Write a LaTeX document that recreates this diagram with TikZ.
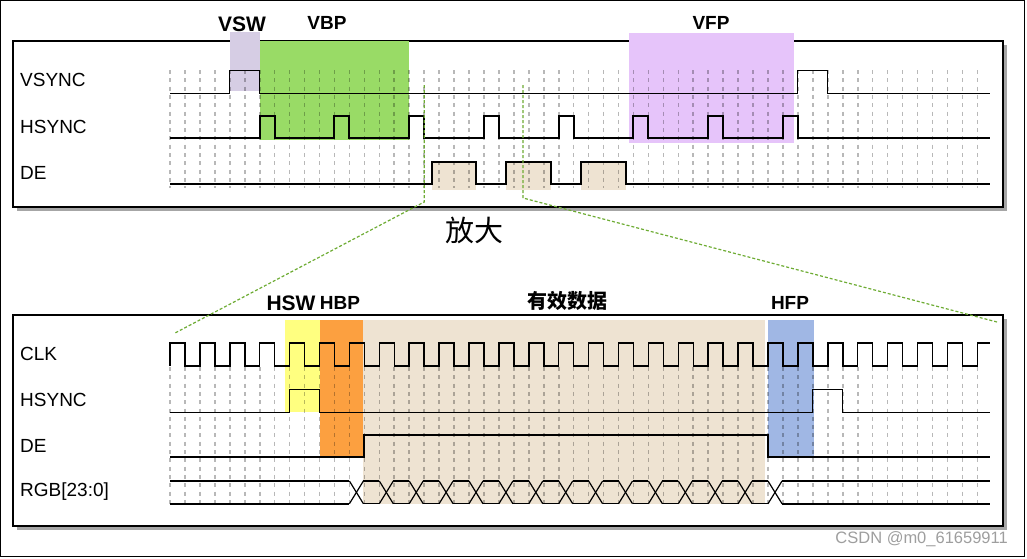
\documentclass[tikz,border=0pt]{standalone}
\usepackage{fontspec}
\setmainfont{Liberation Sans}
\newfontfamily\cjk{Noto Sans CJK SC}
\usepackage{xcolor}
\definecolor{vswcol}{RGB}{214,205,228}
\definecolor{vbpcol}{RGB}{153,219,102}
\definecolor{vfpcol}{RGB}{230,196,250}
\definecolor{datacol}{RGB}{238,227,210}
\definecolor{hswcol}{RGB}{255,255,128}
\definecolor{hbpcol}{RGB}{252,160,64}
\definecolor{hfpcol}{RGB}{160,183,228}
\definecolor{zoomgreen}{RGB}{110,172,52}
\usepackage{tikz}
\usetikzlibrary{positioning}

\def\xo{170}
\def\hp{14.95}

\begin{document}
\begin{tikzpicture}[
    x=1pt, y=-1pt,
    rowlabel/.style={anchor=west, inner sep=0pt, font=\fontsize{19}{22}\selectfont},
    title/.style={inner sep=0pt, font=\fontsize{19}{22}\selectfont\bfseries},
    bigtitle/.style={title, font=\fontsize{21}{24}\selectfont\bfseries},
    panel/.style={draw=black, fill=white, line width=1.3pt},
    shadow/.style={fill=black!35},
    gridline/.style={draw=black, opacity=0.28, line width=1.6pt, dash pattern=on 4pt off 4.3pt},
    thinwave/.style={draw=black, line width=1pt},
    wave/.style={draw=black, line width=2pt},
    clkwave/.style={draw=black, line width=1.5pt},
    bus/.style={draw=black, line width=1.8pt},
    buscross/.style={draw=black, line width=1.2pt},
    zoomline/.style={draw=zoomgreen, line width=1.2pt, dash pattern=on 3pt off 2pt}
]
\useasboundingbox (0,0) rectangle (1027,558);
\draw[line width=1pt] (0.5,0.5) rectangle (1024,556);

\fill[shadow] (17,45) rectangle (1007,211);
\fill[shadow] (17,319) rectangle (1007,530);
\filldraw[panel] (13,41) rectangle (1003,207);
\filldraw[panel] (13,315) rectangle (1003,526);

\fill[vswcol] ({\xo+4*\hp},31.7) rectangle ({\xo+6*\hp},90.7);
\fill[vbpcol] ({\xo+6*\hp},41.3) rectangle ({\xo+16*\hp},140);
\fill[vfpcol] (629.3,33.3) rectangle (794.3,142.7);
\foreach \k in {0,1,2}
  \fill[datacol] ({\xo+(17.5+5*\k)*\hp},161.7) rectangle ({\xo+(20.5+5*\k)*\hp},190);

\fill[hswcol] (285,320) rectangle ({\xo+10*\hp},412);
\fill[hbpcol] ({\xo+10*\hp},320) rectangle (363,456.7);
\fill[datacol] (363,320) rectangle (765,503.5);
\fill[hfpcol] (767.7,320) rectangle (814,455.7);

\foreach \i in {0,...,54} {
  \draw[gridline] ({\xo+\i*\hp},70) -- ({\xo+\i*\hp},188);
  \draw[gridline] ({\xo+\i*\hp},367) -- ({\xo+\i*\hp},504);
}

\node[rowlabel] (lblvsync) at (20,80) {VSYNC};
\node[rowlabel] (lblhsynct) at (20,127) {HSYNC};
\node[rowlabel] (lbldet) at (20,173) {DE};
\node[rowlabel] (lblclk) at (20,354) {CLK};
\node[rowlabel] (lblhsyncb) at (20,400) {HSYNC};
\node[rowlabel] (lbldeb) at (20,446) {DE};
\node[rowlabel] (lblrgb) at (20,492) {RGB[23:0]};

\draw[thinwave] (\xo,93) -| ({\xo+4*\hp},70.7) -| ({\xo+6*\hp},93)
  -| ({\xo+42*\hp},70.7) -| ({\xo+44*\hp},93) -- (990,93);
\draw[wave] (\xo,138.3) \foreach \k in {0,...,7} {
  -- ({\xo+(6+5*\k)*\hp},138.3) |- ({\xo+(7+5*\k)*\hp},115.7) -- ({\xo+(7+5*\k)*\hp},138.3)} -- (990,138.3);
\draw[wave] (\xo,184.3) \foreach \k in {0,1,2} {
  -- ({\xo+(17.5+5*\k)*\hp},184.3) |- ({\xo+(20.5+5*\k)*\hp},161.7) -- ({\xo+(20.5+5*\k)*\hp},184.3)} -- (990,184.3);

\draw[clkwave] (\xo,366) \foreach \k in {0,...,26} {
  -- ({\xo+2*\k*\hp},343) -- ({\xo+(2*\k+1)*\hp},343) -- ({\xo+(2*\k+1)*\hp},366) -- ({\xo+(2*\k+2)*\hp},366)}
  -- ({\xo+54*\hp},343) -- (990,343);
\draw[thinwave] (\xo,412) -| ({\xo+8*\hp},389) -| ({\xo+10*\hp},412)
  -| ({\xo+43*\hp},389) -| ({\xo+45*\hp},412) -- (990,412);
\draw[wave] (\xo,457) -| ({\xo+13*\hp},435) -| ({\xo+40*\hp},457) -- (990,457);

\draw[bus] (\xo,481) -- ({\xo+12*\hp},481);
\draw[bus] (\xo,503.7) -- ({\xo+12*\hp},503.7);
\foreach \k in {12,14,...,40} {
  \draw[buscross] ({\xo+\k*\hp},481) -- ({\xo+\k*\hp+14},503.7);
  \draw[buscross] ({\xo+\k*\hp},503.7) -- ({\xo+\k*\hp+14},481);
}
\foreach \k in {12,14,...,38} {
  \draw[buscross] ({\xo+\k*\hp+14},481) -- ({\xo+(\k+2)*\hp},481);
  \draw[buscross] ({\xo+\k*\hp+14},503.7) -- ({\xo+(\k+2)*\hp},503.7);
}
\draw[bus] ({\xo+40*\hp+14},481) -- (990,481);
\draw[bus] ({\xo+40*\hp+14},503.7) -- (990,503.7);

\node[bigtitle] (vsw) at (242,24) {VSW};
\node[title] (vbp) at (327,23) {VBP};
\node[title] (vfp) at (711,23) {VFP};
\node[bigtitle] (hsw) at (291,303) {HSW};
\node[title, right=4pt of hsw] (hbp) {HBP};
\node[inner sep=0pt, font=\fontsize{20}{22}\cjk\bfseries] (data) at (567,301) {有效数据};
\node[title] (hfp) at (790,303) {HFP};
\node[inner sep=0pt, font=\fontsize{29}{32}\cjk] (zoomtxt) at (474,230) {放大};
\node[anchor=east, inner sep=0pt, text=black!38, font=\fontsize{16.5}{19}\selectfont] (mark) at (1008,539) {CSDN @m0\_61659911};

\coordinate (zlatop) at ({\xo+17*\hp},85);
\coordinate (zlabend) at ({\xo+17*\hp},202);
\coordinate (zlaend) at (175,333);
\coordinate (zlbtop) at (523,85);
\coordinate (zlbbend) at (523,198);
\coordinate (zlbend) at (997,322);
\draw[zoomline] (zlatop) -- (zlabend) -- (zlaend);
\draw[zoomline] (zlbtop) -- (zlbbend) -- (zlbend);
\end{tikzpicture}
\end{document}
